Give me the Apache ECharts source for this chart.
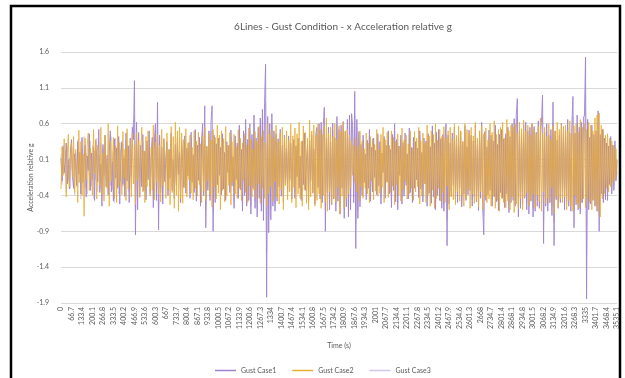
<!DOCTYPE html>
<html lang="en">
<head>
    <meta charset="UTF-8">
    <title>6Lines - Gust Condition - x Acceleration relative g</title>
    <script src="https://cdn.jsdelivr.net/npm/echarts@6.0.0/dist/echarts.min.js"></script>
    <style>
        html, body { margin: 0; padding: 0; background: #fff; }
        #chart { width: 625px; height: 378px; }
    </style>
</head>
<body>
    <div id="chart"></div>
    <script>
        // 时间轴标签（每10个采样点一个）
        const tickLabels = ['0','66.7','133.4','200.1','266.8','333.5','400.2','466.9','533.6','600.3',
            '667','733.7','800.4','867.1','933.8','1000.5','1067.2','1133.9','1200.6','1267.3',
            '1334','1400.7','1467.4','1534.1','1600.8','1667.5','1734.2','1800.9','1867.6','1934.3',
            '2001','2067.7','2134.4','2201.1','2267.8','2334.5','2401.2','2467.9','2534.6','2601.3',
            '2668','2734.7','2801.4','2868.1','2934.8','3001.5','3068.2','3134.9','3201.6','3268.3',
            '3335','3401.7','3468.4','3535.1'];
        const pointsPerLabel = 10;

        const seriesNames = ['Gust Case1', 'Gust Case2', 'Gust Case3'];
        const seriesColors = ['#a184cf', '#eaad33', '#d3c6ea'];

        // Gust Case1 (purple)
        const gust1 = [
            0.12,-0.2,0.28,-0.08,0.05,0.33,-0.24,0.1,-0.31,0.22,0.38,-0.15,-0.3,0.18,0.02,-0.26,0.35,-0.1,0.2,-0.38,
            0.41,-0.22,0.08,0.3,-0.42,0.15,-0.05,0.46,-0.33,0.19,-0.18,0.27,-0.47,0.36,0.1,-0.21,0.52,-0.36,0.04,-0.55,
            0.31,-0.12,0.44,-0.28,0.16,-0.4,0.23,0.5,-0.35,0.07,-0.48,0.39,-0.16,0.26,-0.3,0.42,-0.52,0.18,0.34,-0.25,
            0.12,-0.41,0.47,-0.2,0.29,-0.5,0.4,-0.14,0.55,0.38,1.2,-0.95,0.62,-0.6,0.48,-0.42,0.3,-0.28,0.45,-0.34,
            0.22,-0.46,0.36,-0.18,0.5,-0.38,0.14,0.41,-0.57,0.33,0.6,-0.47,0.9,-0.88,0.44,-0.36,0.27,-0.52,0.39,-0.21,
            0.13,0.35,-0.4,0.24,-0.16,0.47,-0.33,0.09,-0.45,0.31,-0.26,0.4,-0.11,0.2,-0.5,0.37,0.05,-0.29,0.43,-0.37,
            0.26,-0.13,0.34,-0.44,0.48,-0.22,0.17,-0.36,0.52,-0.48,0.3,-0.19,0.41,-0.55,0.36,0.6,-0.4,0.85,-0.85,0.28,
            -0.33,0.5,-0.47,0.62,0.85,-0.9,0.44,-0.5,0.32,-0.25,0.4,-0.12,0.27,-0.39,0.46,-0.31,0.2,-0.47,0.35,-0.08,
            0.3,-0.36,0.51,-0.27,0.14,-0.58,0.43,-0.18,0.33,-0.44,0.58,-0.32,0.24,-0.62,0.5,-0.4,0.66,-0.55,0.38,-0.47,
            0.6,-0.66,0.45,-0.3,0.72,-0.58,0.4,-0.7,0.55,-0.44,0.68,-0.62,0.8,-0.75,0.88,1.43,-1.82,0.7,-0.92,0.6,
            -0.74,0.74,-0.55,0.5,-0.62,0.46,-0.48,0.39,-0.28,0.52,-0.41,0.3,-0.5,0.44,-0.22,0.26,-0.36,0.43,-0.19,0.33,
            -0.45,0.21,0.38,-0.44,0.29,-0.14,0.4,-0.3,0.15,-0.47,0.36,-0.25,0.47,-0.33,0.1,0.3,-0.48,0.36,-0.2,0.44,
            -0.37,0.25,-0.52,0.47,0.55,-0.29,0.6,-0.45,0.62,-0.5,0.58,0.83,-0.9,0.41,-0.37,0.55,-0.6,0.34,-0.53,0.61,
            -0.45,0.4,-0.62,0.7,-0.48,0.52,-0.66,0.58,-0.3,0.63,-0.72,0.49,-0.56,0.66,-0.7,0.72,-0.6,0.74,0.58,-0.5,
            1.05,-1.14,0.66,-0.72,0.49,-0.56,0.31,-0.4,0.44,-0.22,0.18,-0.46,0.37,-0.3,0.52,-0.48,0.27,-0.35,0.4,-0.15,
            0.23,-0.39,0.46,-0.27,0.35,-0.52,0.19,-0.08,0.42,-0.44,0.3,-0.21,0.5,-0.38,0.24,-0.57,0.45,-0.33,0.6,-0.49,
            0.38,-0.6,0.29,-0.12,0.44,-0.52,0.33,-0.41,0.47,-0.26,0.18,-0.45,0.54,-0.36,0.27,-0.5,0.41,-0.3,0.35,-0.18,
            0.26,-0.43,0.5,-0.31,0.2,-0.49,0.4,-0.24,0.36,-0.55,0.46,-0.37,0.28,-0.51,0.57,-0.42,0.33,-0.6,0.48,-0.4,
            0.52,-0.47,0.39,-0.58,0.45,-0.62,0.36,0.6,-1.1,0.44,-0.52,0.33,-0.41,0.47,-0.26,0.55,-0.45,0.38,-0.5,0.42,
            -0.3,0.49,-0.56,0.35,-0.38,0.57,-0.47,0.28,-0.39,0.51,-0.33,0.44,-0.55,0.36,-0.42,0.58,-0.49,0.31,-0.61,0.5,
            -0.44,0.62,-0.58,-0.95,0.49,-0.47,0.28,-0.39,0.51,-0.33,0.44,-0.55,0.36,-0.42,0.58,-0.49,0.31,-0.61,0.45,-0.36,
            0.52,-0.44,0.39,-0.57,0.46,-0.38,0.55,-0.64,0.42,-0.5,0.6,-0.47,0.67,-0.55,0.72,0.95,-0.7,0.5,-0.58,0.46,
            -0.52,0.58,-0.44,0.62,-0.6,0.5,-0.66,0.55,-0.48,0.6,-0.7,0.56,-0.62,0.48,-0.55,0.64,-0.58,0.5,0.62,1.0,
            -1.07,0.48,-0.55,0.6,-0.62,0.44,-0.5,0.52,-0.68,0.9,-1.1,0.5,-0.46,0.37,-0.58,0.44,-0.5,0.61,-0.42,0.56,
            -0.6,0.5,-0.48,0.66,-0.55,0.47,-0.62,0.58,0.98,-0.85,0.47,-0.53,0.72,-0.6,0.55,-0.66,0.62,-0.5,0.68,0.72,
            1.53,-1.84,0.66,-0.6,0.41,-0.52,0.58,-0.47,0.45,-0.55,0.5,-0.62,0.78,-0.9,0.45,-0.38,0.52,-0.5,0.4,-0.46,
            0.33,-0.47,0.29,-0.25,0.42,-0.38,0.3,-0.33,0.36,-0.2,0.1
        ];

        // Gust Case2 (orange)
        const gust2 = [
            -0.31,0.28,-0.12,0.39,0.1,-0.42,0.2,0.45,-0.28,0.05,0.33,-0.15,0.42,-0.36,0.24,-0.05,-0.5,0.51,-0.22,0.35,
            -0.4,0.18,-0.69,0.4,-0.18,0.3,0.47,-0.33,0.26,-0.1,-0.4,0.52,-0.1,0.38,-0.45,0.3,0.12,-0.26,0.55,-0.38,
            0.19,-0.48,0.44,-0.05,-0.3,0.6,-0.55,0.36,-0.2,0.08,0.41,-0.44,0.29,-0.5,0.57,-0.27,0.34,0.02,-0.39,0.49,
            -0.16,0.25,-0.47,0.53,-0.31,0.1,0.37,-0.42,0.46,-0.24,0.31,-0.52,0.48,-0.19,0.36,-0.43,0.2,0.55,-0.35,0.22,
            -0.5,0.42,-0.28,0.5,-0.05,-0.41,0.27,-0.33,0.58,-0.46,0.34,-0.22,0.45,-0.38,0.3,-0.49,0.52,-0.26,0.39,0.08,
            -0.44,0.47,-0.31,0.24,-0.53,0.56,-0.36,0.42,-0.58,0.62,-0.4,0.5,-0.62,0.55,-0.45,0.47,-0.51,0.38,-0.29,0.53,
            -0.42,0.33,-0.18,0.44,-0.37,0.27,-0.46,0.5,-0.3,0.36,-0.41,0.48,-0.25,0.32,-0.5,0.43,-0.34,0.55,-0.47,0.29,
            -0.2,0.46,-0.39,0.37,-0.56,0.52,-0.28,0.41,-0.45,0.58,-0.37,0.44,-0.6,0.5,-0.33,0.39,-0.49,0.56,-0.41,0.3,
            -0.26,0.48,-0.53,0.35,-0.22,0.45,-0.38,0.28,-0.44,0.52,-0.3,0.4,-0.47,0.33,-0.19,0.46,-0.36,0.3,-0.5,0.54,
            -0.27,0.38,-0.42,0.25,-0.33,0.49,-0.45,0.36,-0.24,0.57,-0.51,0.42,-0.3,0.5,-0.44,0.33,-0.55,0.6,-0.37,0.45,
            -0.28,0.52,-0.48,0.4,-0.21,0.58,-0.43,0.35,-0.52,0.47,-0.32,0.55,-0.6,0.41,-0.26,0.5,-0.46,0.37,-0.35,0.6,
            -0.5,0.43,-0.29,0.54,-0.57,0.46,-0.38,0.62,-0.44,0.35,-0.55,0.57,-0.32,0.48,-0.51,0.4,-0.6,0.65,-0.42,0.5,
            -0.36,0.58,-0.55,0.44,-0.47,0.6,-0.38,0.52,-0.58,0.45,-0.4,0.56,-0.49,0.68,-0.62,0.47,-0.35,0.55,-0.52,0.42,
            -0.44,0.6,-0.5,0.38,-0.29,0.57,-0.66,0.49,-0.41,0.62,-0.57,0.5,-0.45,0.52,-0.38,0.44,-0.3,0.36,-0.12,0.3,
            -0.22,0.41,-0.35,0.28,-0.48,0.5,-0.27,0.36,-0.44,0.25,-0.3,0.47,-0.38,0.33,-0.5,0.42,-0.2,0.39,-0.46,0.31,
            -0.34,0.52,-0.41,0.24,-0.37,0.45,-0.29,0.55,-0.5,0.38,-0.22,0.48,-0.43,0.3,-0.36,0.5,-0.27,0.41,-0.53,0.35,
            -0.25,0.46,-0.4,0.29,-0.48,0.54,-0.33,0.37,-0.2,0.44,-0.45,0.32,-0.38,0.5,-0.3,0.26,-0.47,0.49,-0.35,0.4,
            -0.28,0.55,-0.52,0.36,-0.41,0.47,-0.24,0.33,-0.5,0.58,-0.39,0.43,-0.55,0.5,-0.32,0.45,-0.58,0.6,-0.44,0.37,
            -0.3,0.52,-0.48,0.42,-0.36,0.56,-0.5,0.4,-0.27,0.5,-0.6,0.55,-0.42,0.38,-0.46,0.6,-0.53,0.44,-0.35,0.57,
            -0.48,0.5,-0.4,0.35,-0.55,0.6,-0.45,0.52,-0.32,0.47,-0.58,0.55,-0.38,0.43,-0.51,0.62,-0.47,0.4,-0.56,0.5,
            -0.35,0.58,-0.6,0.46,-0.42,0.54,-0.5,0.37,-0.45,0.6,-0.55,0.48,-0.4,0.64,-0.58,0.45,-0.47,0.52,-0.62,0.55,
            -0.44,0.62,-0.5,0.4,-0.57,0.66,-0.48,0.5,-0.6,0.58,-0.42,0.55,-0.64,0.6,-0.52,0.47,-0.58,0.62,-0.45,0.53,
            -0.6,0.65,-0.42,0.5,-0.36,0.58,-0.55,0.44,-0.47,0.6,-0.38,0.52,-0.58,0.45,-0.4,0.56,-0.49,0.68,-0.62,0.47,
            -0.35,0.55,-0.52,0.42,-0.44,0.6,-0.5,0.38,-0.29,0.57,-0.66,0.49,-0.41,0.62,-0.57,0.52,-0.45,0.6,-0.5,0.55,
            -0.42,0.58,-0.6,0.5,-0.47,0.64,-0.55,0.45,-0.62,0.57,-0.4,0.6,-0.52,0.48,-0.58,0.66,-0.5,0.55,-0.45,0.6,
            -0.57,0.52,-0.44,0.62,-0.5,0.58,-0.6,0.5,-0.47,0.68,-0.55,0.72,-0.62,0.75,-0.7,0.58,-0.45,0.52,-0.38,0.44,
            -0.3,0.46,-0.35,0.4,-0.28,0.36,-0.22,0.3,-0.18,0.25,-0.12
        ];

        // Gust Case3 (light lavender)
        const gust3 = [
            0.18,-0.25,0.3,-0.1,0.22,-0.35,0.27,-0.2,0.12,-0.3,0.34,-0.16,0.26,-0.4,0.2,-0.28,0.38,-0.22,0.1,-0.45,
            0.28,-0.15,0.42,-0.3,0.19,-0.38,0.25,-0.12,0.36,-0.27,0.3,-0.44,0.22,-0.18,0.4,-0.35,0.16,-0.3,0.33,-0.24,
            0.26,-0.4,0.35,-0.2,0.12,-0.36,0.3,-0.26,0.42,-0.32,0.2,-0.5,0.4,-0.15,0.31,-0.38,0.24,-0.2,0.36,-0.28,
            0.16,-0.42,0.38,-0.18,0.3,-0.35,0.22,-0.3,0.48,0.62,0.7,-0.62,0.45,-0.4,0.32,-0.36,0.25,-0.22,0.34,-0.3,
            0.2,-0.38,0.3,-0.14,0.41,-0.33,0.18,0.35,-0.45,0.27,0.5,-0.4,0.62,-0.58,0.35,-0.3,0.22,-0.44,0.3,-0.18,
            0.15,0.28,-0.33,0.2,-0.12,0.38,-0.27,0.1,-0.36,0.25,-0.2,0.33,-0.1,0.17,-0.42,0.3,0.04,-0.24,0.36,-0.3,
            0.22,-0.1,0.28,-0.38,0.4,-0.18,0.14,-0.3,0.44,-0.4,0.25,-0.16,0.35,-0.46,0.3,0.5,-0.34,0.55,-0.6,0.22,
            -0.28,0.42,-0.38,0.5,0.5,-0.62,0.36,-0.42,0.27,-0.2,0.33,-0.1,0.22,-0.32,0.38,-0.26,0.17,-0.4,0.29,-0.06,
            0.25,-0.3,0.42,-0.22,0.12,-0.48,0.36,-0.15,0.28,-0.37,0.48,-0.27,0.2,-0.52,0.42,-0.33,0.55,-0.46,0.32,-0.4,
            0.5,-0.55,0.38,-0.25,0.6,-0.48,0.33,-0.58,0.46,-0.37,0.57,-0.52,0.66,-0.62,0.7,0.9,-1.2,0.58,-0.7,0.5,
            -0.6,0.6,-0.46,0.42,-0.52,0.38,-0.4,0.33,-0.23,0.43,-0.34,0.25,-0.42,0.37,-0.18,0.22,-0.3,0.36,-0.16,0.28,
            -0.38,0.18,0.32,-0.37,0.24,-0.12,0.33,-0.25,0.13,-0.4,0.3,-0.21,0.39,-0.28,0.08,0.25,-0.4,0.3,-0.17,0.37,
            -0.31,0.21,-0.44,0.39,0.46,-0.24,0.5,-0.38,0.52,-0.42,0.48,0.56,-0.6,0.34,-0.31,0.46,-0.5,0.28,-0.44,0.51,
            -0.38,0.33,-0.52,0.58,-0.4,0.43,-0.55,0.48,-0.25,0.52,-0.6,0.41,-0.47,0.55,-0.58,0.6,-0.5,0.62,0.48,-0.42,
            0.72,-0.8,0.55,-0.6,0.41,-0.47,0.26,-0.33,0.37,-0.18,0.15,-0.38,0.31,-0.25,0.43,-0.4,0.22,-0.29,0.33,-0.12,
            0.19,-0.33,0.38,-0.22,0.29,-0.43,0.16,-0.07,0.35,-0.37,0.25,-0.17,0.42,-0.32,0.2,-0.47,0.37,-0.27,0.5,-0.41,
            0.32,-0.5,0.24,-0.1,0.37,-0.43,0.27,-0.34,0.39,-0.22,0.15,-0.37,0.45,-0.3,0.22,-0.42,0.34,-0.25,0.29,-0.15,
            0.22,-0.36,0.42,-0.26,0.17,-0.41,0.33,-0.2,0.3,-0.46,0.38,-0.31,0.23,-0.42,0.47,-0.35,0.27,-0.5,0.4,-0.33,
            0.43,-0.39,0.32,-0.48,0.37,-0.52,0.3,0.45,-0.75,0.36,-0.43,0.27,-0.34,0.39,-0.22,0.46,-0.37,0.32,-0.42,0.35,
            -0.25,0.41,-0.47,0.29,-0.32,0.47,-0.39,0.23,-0.32,0.42,-0.27,0.37,-0.46,0.3,-0.35,0.48,-0.41,0.26,-0.51,0.42,
            -0.37,0.52,-0.48,-0.68,0.41,-0.39,0.23,-0.32,0.42,-0.27,0.37,-0.46,0.3,-0.35,0.48,-0.41,0.26,-0.51,0.37,-0.3,
            0.43,-0.37,0.32,-0.47,0.38,-0.32,0.46,-0.53,0.35,-0.42,0.5,-0.39,0.56,-0.46,0.6,0.68,-0.55,0.42,-0.48,0.38,
            -0.43,0.48,-0.37,0.52,-0.5,0.42,-0.55,0.46,-0.4,0.5,-0.58,0.47,-0.52,0.4,-0.46,0.53,-0.48,0.42,0.52,0.7,
            -0.76,0.4,-0.46,0.5,-0.52,0.37,-0.42,0.43,-0.56,0.62,-0.78,0.42,-0.38,0.31,-0.48,0.37,-0.42,0.51,-0.35,0.47,
            -0.5,0.42,-0.4,0.55,-0.46,0.39,-0.52,0.48,0.7,-0.62,0.39,-0.44,0.6,-0.5,0.46,-0.55,0.52,-0.42,0.57,0.6,
            1.05,-1.25,0.55,-0.5,0.34,-0.43,0.48,-0.39,0.37,-0.46,0.42,-0.52,0.6,-0.68,0.37,-0.32,0.43,-0.42,0.33,-0.38,
            0.27,-0.39,0.24,-0.21,0.35,-0.32,0.25,-0.27,0.3,-0.17,0.08
        ];

        // 类目：只有每10个点显示一个时间标签
        const categories = gust1.map((_, i) =>
            i % pointsPerLabel === 0 ? (tickLabels[i / pointsPerLabel] || '') : '');

        const font = 'Lato, "Open Sans", sans-serif';
        const textColor = '#595959';

        const chart = echarts.init(document.getElementById('chart'));
        const option = {
            animation: false,
            backgroundColor: '#fff',
            textStyle: { fontFamily: font },
            title: {
                text: '6Lines - Gust Condition - x Acceleration relative g',
                left: 338,
                top: 17,
                textAlign: 'center',
                textStyle: { fontFamily: font, fontSize: 10, fontWeight: 'normal', color: textColor }
            },
            legend: {
                // 图例颜色明确指定
                data: seriesNames.map((name, i) => ({
                    name: name,
                    icon: 'rect',
                    itemStyle: { color: seriesColors[i], opacity: 1, borderWidth: 0 },
                    lineStyle: { color: seriesColors[i], opacity: 1 }
                })),
                left: 210,
                top: 362,
                itemWidth: 21,
                itemHeight: 1.5,
                itemGap: 16,
                textStyle: { fontFamily: font, fontSize: 7, color: textColor }
            },
            grid: { left: 61, right: 8, top: 52, bottom: 75 },
            xAxis: {
                type: 'category',
                data: categories,
                boundaryGap: false,
                name: 'Time (s)',
                nameLocation: 'middle',
                nameGap: 39,
                nameMoveOverlap: false,
                nameTextStyle: { fontFamily: font, fontSize: 7, color: textColor },
                axisLine: { lineStyle: { color: '#d9d9d9' } },
                axisTick: { show: false },
                axisLabel: {
                    interval: pointsPerLabel - 1,
                    rotate: 90,
                    fontSize: 7,
                    color: textColor,
                    margin: 4
                }
            },
            yAxis: {
                type: 'value',
                min: -1.9,
                max: 1.6,
                interval: 0.5,
                name: 'Acceleration relative g',
                nameLocation: 'middle',
                nameGap: 27,
                nameMoveOverlap: false,
                nameTextStyle: { fontFamily: font, fontSize: 7, color: textColor },
                axisLine: { show: false },
                axisTick: { show: false },
                splitLine: { lineStyle: { color: '#d9d9d9' } },
                axisLabel: {
                    fontSize: 7,
                    color: textColor,
                    margin: 12,
                    formatter: v => Number(v).toFixed(1)
                }
            },
            series: [
                {
                    name: seriesNames[0], type: 'line', data: gust1, symbol: 'none', z: 3,
                    itemStyle: { color: seriesColors[0] },
                    lineStyle: { width: 1, color: seriesColors[0], opacity: 0.9 }
                },
                {
                    // 橙色在最上层，与紫色叠加呈棕色
                    name: seriesNames[1], type: 'line', data: gust2, symbol: 'none', z: 4,
                    itemStyle: { color: seriesColors[1] },
                    lineStyle: { width: 1, color: seriesColors[1], opacity: 0.8 }
                },
                {
                    name: seriesNames[2], type: 'line', data: gust3, symbol: 'none', z: 2,
                    itemStyle: { color: seriesColors[2] },
                    lineStyle: { width: 1, color: seriesColors[2], opacity: 0.8 }
                }
            ],
            // 截图外框
            graphic: [{
                type: 'rect',
                shape: { x: 11, y: 6, width: 609, height: 400 },
                style: { fill: 'none', stroke: '#000', lineWidth: 2.5 },
                silent: true
            }]
        };
        chart.setOption(option);
    </script>
</body>
</html>
